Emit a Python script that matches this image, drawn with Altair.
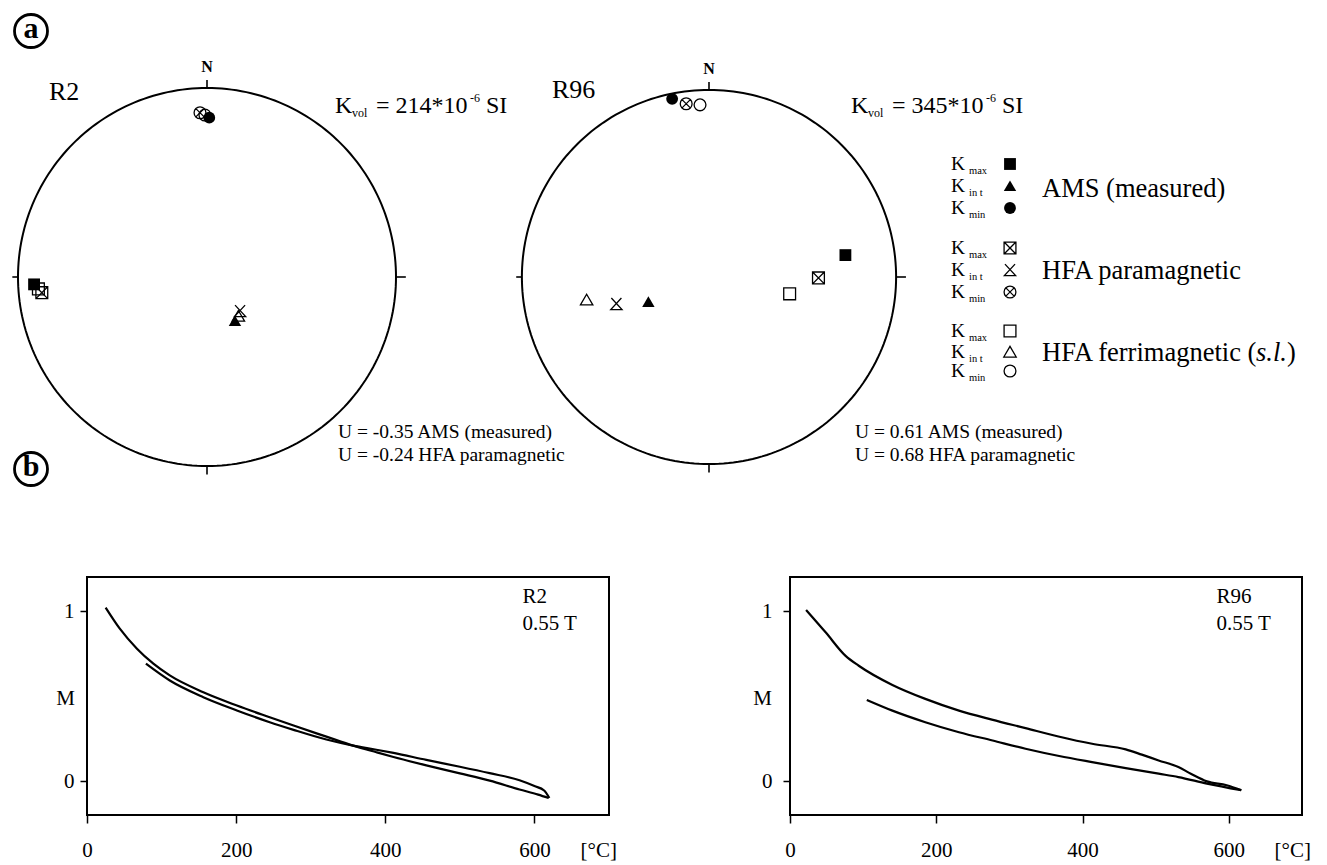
import altair as alt
import numpy as np
import pandas as pd

FONT = "Liberation Serif"

# ---------------- (a) principal susceptibility directions ----------------
# projected positions on the unit stereonet circle (east, north)
AXES = ["Kmax", "Kint", "Kmin"]
SITES = ["R2", "R96"]

R2_AMS_E = [-0.915, 0.148, 0.012]
R2_AMS_N = [-0.039, -0.233, 0.843]
R2_PARA_E = [-0.874, 0.175, -0.037]
R2_PARA_N = [-0.083, -0.180, 0.869]
R2_FERRI_E = [-0.892, 0.166, -0.011]
R2_FERRI_N = [-0.063, -0.207, 0.857]

R96_AMS_E = [0.729, -0.324, -0.197]
R96_AMS_N = [0.117, -0.133, 0.952]
R96_PARA_E = [0.585, -0.495, -0.122]
R96_PARA_N = [-0.005, -0.144, 0.926]
R96_FERRI_E = [0.431, -0.654, -0.048]
R96_FERRI_N = [-0.090, -0.122, 0.920]

KVOL = ["214", "345"]
U_AMS = ["-0.35", "0.61"]
U_PARA = ["-0.24", "0.68"]

TYPES = ["AMS", "para", "ferri"]
GROUP_LABELS = ["AMS (measured)", "HFA paramagnetic", "HFA ferrimagnetic ("]
SUBS = ["max", "in t", "min"]

# ---------------- (b) thermomagnetic curves ----------------
TICKS_T = [0, 200, 400, 600]
R2_HEAT_T = [25, 44, 67, 89, 111, 156, 201, 245, 277, 321, 357, 388, 411, 455, 500, 540, 580, 605, 619]
R2_HEAT_M = [1.02, 0.896, 0.778, 0.690, 0.621, 0.522, 0.444, 0.375, 0.326, 0.261, 0.208, 0.169, 0.141,
             0.092, 0.045, 0.002, -0.05, -0.08, -0.10]
R2_COOL_T = [79, 111, 156, 201, 245, 277, 321, 357, 388, 411, 455, 500, 540, 580, 600, 613, 620]
R2_COOL_M = [0.690, 0.591, 0.493, 0.415, 0.346, 0.301, 0.244, 0.208, 0.184, 0.165, 0.124, 0.084, 0.046,
             0.004, -0.030, -0.056, -0.10]

R96_HEAT_T = [22, 49, 76, 94, 140, 185, 231, 276, 322, 367, 413, 459, 481, 504, 531, 548, 570, 597, 617]
R96_HEAT_M = [1.006, 0.873, 0.736, 0.678, 0.565, 0.483, 0.414, 0.361, 0.311, 0.262, 0.219, 0.186, 0.155,
              0.121, 0.082, 0.043, -0.002, -0.025, -0.054]
R96_COOL_T = [105, 140, 185, 231, 277, 322, 368, 413, 459, 504, 531, 570, 617]
R96_COOL_M = [0.477, 0.414, 0.346, 0.287, 0.238, 0.190, 0.147, 0.111, 0.076, 0.043, 0.023, -0.015, -0.054]

# ---------------- layout helpers (top panel in stereonet-radius units) ----------------
PX = 189.0
ORGX, ORGY = 12, 11          # page position of the chart origin
TOP_W, TOP_H = 1300, 543


def ux(px):
    return (px - 207) / PX


def vy(py):
    return (276 - py) / PX


XDOM = [ux(ORGX), ux(ORGX + TOP_W)]
YDOM = [vy(ORGY + TOP_H), vy(ORGY)]
PANEL = {"R2": (ux(207), vy(276), 1.0), "R96": (ux(709), vy(276), 0.99)}


def X(f="x"):
    return alt.X(f"{f}:Q", scale=alt.Scale(domain=XDOM, nice=False, zero=False), axis=None)


def Y(f="y"):
    return alt.Y(f"{f}:Q", scale=alt.Scale(domain=YDOM, nice=False, zero=False), axis=None)


SQ = "M-1,-1H1V1H-1Z"
TRI = "M0,-0.95L1.05,0.85H-1.05Z"
SQX = "M-1,-1H1V1H-1Z M-1,-1L1,1 M1,-1L-1,1"
TRIX = "M-0.85,-1L0.95,0.95H-0.95L0.85,-1"
CIRCX = "M1,0A1,1,0,1,1,-1,0A1,1,0,1,1,1,0Z M-0.7,-0.7L0.7,0.7 M0.7,-0.7L-0.7,0.7"
SHAPE = {
    ("AMS", "Kmax"): SQ, ("AMS", "Kint"): TRI, ("AMS", "Kmin"): "circle",
    ("para", "Kmax"): SQX, ("para", "Kint"): TRIX, ("para", "Kmin"): CIRCX,
    ("ferri", "Kmax"): SQ, ("ferri", "Kint"): TRI, ("ferri", "Kmin"): "circle",
}

# stereonet outlines
theta = np.linspace(0, 2 * np.pi, 241)
circ_rows = []
tick_rows = []
for s in SITES:
    cx, cy, r = PANEL[s]
    for i, t in enumerate(theta):
        circ_rows.append({"site": s, "i": i, "x": cx + r * np.cos(t), "y": cy + r * np.sin(t)})
    tick_rows += [
        {"x": cx, "y": cy + r, "x2": cx, "y2": cy + r + 0.042},
        {"x": cx, "y": cy - r, "x2": cx, "y2": cy - r - 0.045},
        {"x": cx + r, "y": cy, "x2": cx + r + 0.052, "y2": cy},
        {"x": cx - r, "y": cy, "x2": cx - r - 0.03, "y2": cy},
    ]
circ_df = pd.DataFrame(circ_rows)
tick_df = pd.DataFrame(tick_rows)

# markers
SERIES = {
    "R2": {"AMS": (R2_AMS_E, R2_AMS_N), "para": (R2_PARA_E, R2_PARA_N), "ferri": (R2_FERRI_E, R2_FERRI_N)},
    "R96": {"AMS": (R96_AMS_E, R96_AMS_N), "para": (R96_PARA_E, R96_PARA_N), "ferri": (R96_FERRI_E, R96_FERRI_N)},
}
mk_rows = []
for s in SITES:
    cx, cy, r = PANEL[s]
    for tp in ["ferri", "para", "AMS"]:
        es, ns = SERIES[s][tp]
        for a, e, n in zip(AXES, es, ns):
            mk_rows.append({"x": cx + r * e, "y": cy + r * n, "shape": SHAPE[(tp, a)],
                            "filled": tp == "AMS", "legend": False})

# legend rows
ROW_Y = [[163, 185, 207], [247, 269, 291], [330, 351, 370]]
LABEL_Y = [188, 270, 352]
txt_rows = []
for g, tp in enumerate(TYPES):
    for k, a in enumerate(AXES):
        yy = ROW_Y[g][k]
        mk_rows.append({"x": ux(1010), "y": vy(yy), "shape": SHAPE[(tp, a)],
                        "filled": tp == "AMS", "legend": True})
        txt_rows.append({"x": ux(951), "y": vy(yy), "text": "K", "fs": 19.5})
        txt_rows.append({"x": ux(969), "y": vy(yy + 7), "text": SUBS[k], "fs": 10.5})
    txt_rows.append({"x": ux(1042), "y": vy(LABEL_Y[g]), "text": GROUP_LABELS[g], "fs": 26.5})
txt_rows.append({"x": ux(1287), "y": vy(LABEL_Y[2]), "text": ")", "fs": 26.5})
mk_df = pd.DataFrame(mk_rows)

# annotations
SITE_LABEL_POS = [(49, 91), (552, 89)]
KBASE = [335, 851]
UBASE = [338, 855]
for j, s in enumerate(SITES):
    lx, ly = SITE_LABEL_POS[j]
    txt_rows.append({"x": ux(lx), "y": vy(ly), "text": s, "fs": 26})
    b = KBASE[j]
    txt_rows += [
        {"x": ux(b), "y": vy(105), "text": "K", "fs": 24},
        {"x": ux(b + 17), "y": vy(112), "text": "vol", "fs": 12},
        {"x": ux(b + 41), "y": vy(105), "text": f"= {KVOL[j]}*10", "fs": 24},
        {"x": ux(b + 135), "y": vy(97), "text": "-6", "fs": 12},
        {"x": ux(b + 151), "y": vy(105), "text": "SI", "fs": 24},
    ]
    ub = UBASE[j]
    txt_rows.append({"x": ux(ub), "y": vy(431), "text": f"U = {U_AMS[j]} AMS (measured)", "fs": 19.5})
    txt_rows.append({"x": ux(ub), "y": vy(454), "text": f"U = {U_PARA[j]} HFA paramagnetic", "fs": 19.5})
txt_df = pd.DataFrame(txt_rows)

ital_df = pd.DataFrame([{"x": ux(1256), "y": vy(LABEL_Y[2]), "text": "s.l."}])
north_df = pd.DataFrame([{"x": PANEL[s][0], "y": PANEL[s][1] + PANEL[s][2] + 0.11, "text": "N"} for s in SITES])
letter_df = pd.DataFrame([{"x": ux(31), "y": vy(30), "text": "a"}, {"x": ux(31), "y": vy(468), "text": "b"}])

circles = alt.Chart(circ_df).mark_line(color="black", strokeWidth=2).encode(
    x=X(), y=Y(), detail="site:N", order="i:Q")
ticks = alt.Chart(tick_df).mark_rule(color="black", strokeWidth=1.6).encode(
    x=X(), y=Y(), x2="x2:Q", y2="y2:Q")
mk_open = alt.Chart(mk_df[~mk_df["filled"]]).mark_point(
    filled=False, opacity=1, color="black", strokeWidth=1.3, size=140).encode(
    x=X(), y=Y(), shape=alt.Shape("shape:N", scale=None))
mk_fill = alt.Chart(mk_df[mk_df["filled"]]).mark_point(
    filled=True, opacity=1, color="black", size=140).encode(
    x=X(), y=Y(), shape=alt.Shape("shape:N", scale=None))
texts = alt.Chart(txt_df).mark_text(align="left", baseline="middle", font=FONT, color="black").encode(
    x=X(), y=Y(), text="text:N", size=alt.Size("fs:Q", scale=None))
ital = alt.Chart(ital_df).mark_text(align="left", baseline="middle", font=FONT, fontStyle="italic",
                                    fontSize=26.5, color="black").encode(x=X(), y=Y(), text="text:N")
north = alt.Chart(north_df).mark_text(align="center", baseline="middle", font=FONT, fontWeight="bold",
                                      fontSize=16, color="black").encode(x=X(), y=Y(), text="text:N")
let_circ = alt.Chart(letter_df).mark_point(shape="circle", size=1089, filled=False, opacity=1,
                                           strokeWidth=2.8, color="black").encode(x=X(), y=Y())
let_txt = alt.Chart(letter_df).mark_text(align="center", baseline="middle", font=FONT, fontWeight="bold",
                                         fontSize=30, dy=-2, color="black").encode(x=X(), y=Y(), text="text:N")

top = alt.layer(circles, ticks, mk_open, mk_fill, texts, ital, north, let_circ, let_txt).properties(
    width=TOP_W, height=TOP_H)


def thermo(name, ht, hm, ct, cm, width, m_x, lab_pad, unit_x, note_x):
    df = pd.DataFrame({"T": ht + ct, "M": hm + cm,
                       "branch": ["heating"] * len(ht) + ["cooling"] * len(ct)})
    xs = alt.Scale(domain=[0, 700], nice=False, zero=False)
    ys = alt.Scale(domain=[-0.2, 1.2], nice=False, zero=False)
    common = dict(domain=False, grid=False, tickColor="black", tickWidth=1.5,
                  labelFont=FONT, labelFontSize=21, labelColor="black",
                  titleFont=FONT, titleFontSize=21, titleFontWeight="normal", titleColor="black",
                  titleAngle=0, titleBaseline="middle", format="d")
    line = alt.Chart(df).mark_line(color="black", strokeWidth=2.2, interpolate="monotone").encode(
        x=alt.X("T:Q", scale=xs, axis=alt.Axis(values=TICKS_T, title="[°C]", titleX=unit_x, titleY=35,
                                               titleAlign="left", tickSize=8, labelPadding=16,
                                               labelFlush=False, **common)),
        y=alt.Y("M:Q", scale=ys, axis=alt.Axis(values=[0, 1], title="M", titleX=m_x, titleY=121,
                                               titleAlign="center", tickSize=7, labelPadding=lab_pad,
                                               **common)),
        detail="branch:N", order="T:Q")
    note = pd.DataFrame({"T": [note_x, note_x], "M": [1.082, 0.924], "text": [name, "0.55 T"]})
    txt = alt.Chart(note).mark_text(align="left", baseline="middle", font=FONT, fontSize=21,
                                    color="black").encode(
        x=alt.X("T:Q", scale=xs), y=alt.Y("M:Q", scale=ys), text="text:N")
    return alt.layer(line, txt).properties(
        width=width, height=238, view=alt.ViewBackground(stroke="black", strokeWidth=2))


left = thermo("R2", R2_HEAT_T, R2_HEAT_M, R2_COOL_T, R2_COOL_M, 522, -22, 6, 493, 584)
right = thermo("R96", R96_HEAT_T, R96_HEAT_M, R96_COOL_T, R96_COOL_M, 512, -28, 11, 484, 583)

spacer = alt.Chart(pd.DataFrame({"v": [10]})).mark_text(text=" ", fontSize=1).encode(
    x=alt.value(40), y=alt.value(100)).properties(width=87 - ORGX, height=238)

bottom = alt.hconcat(spacer, alt.hconcat(left, right, spacing=181, bounds="flush"),
                     spacing=0, bounds="flush")

chart = alt.vconcat(top, bottom, spacing=576 - ORGY - TOP_H, bounds="flush").properties(
    padding={"left": 0, "top": 0, "right": 0, "bottom": 0}).configure_view(strokeWidth=0)

chart.save("out.html", embed_options={"renderer": "svg", "actions": False})
